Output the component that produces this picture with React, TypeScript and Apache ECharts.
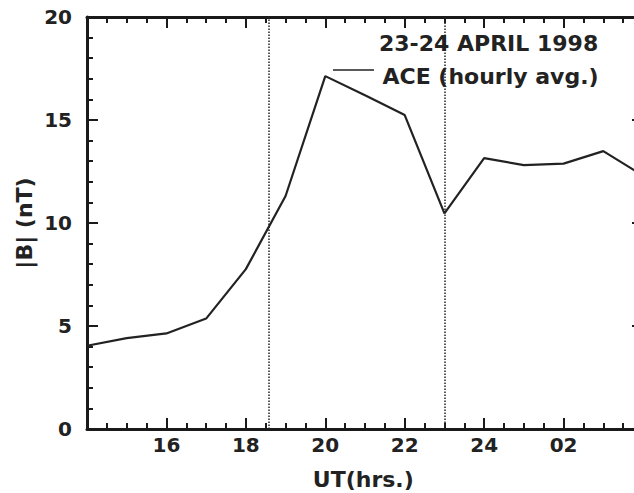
import React, { useEffect, useRef } from "react";
import * as echarts from "echarts";

const hours = [14, 15, 16, 17, 18, 19, 20, 21, 22, 23, 24, 25, 26, 27, 28];
const bValues = [4.04, 4.41, 4.64, 5.36, 7.76, 11.31, 17.13, 16.2, 15.24, 10.47, 13.15, 12.81, 12.88, 13.49, 12.3];
const markerHours = [18.57, 23.0];
const xTickLabels: Record<number, string> = { 16: "16", 18: "18", 20: "20", 22: "22", 24: "24", 26: "02" };
const titleText = "23-24 APRIL 1998";
const seriesName = "ACE (hourly avg.)";
const xName = "UT(hrs.)";
const yName = "|B| (nT)";

const FONT = "'DejaVu Sans', sans-serif";
const INK = "#222";
const AXIS = "#1a1a1a";

function axisLine() {
  return { show: true, onZero: false, lineStyle: { color: AXIS, width: 3 } };
}
function tick() {
  return { show: true, inside: true, length: 11, lineStyle: { color: AXIS, width: 2 } };
}
function minor(n: number) {
  return { show: true, splitNumber: n, length: 6, lineStyle: { color: AXIS, width: 2 } };
}

export default function App() {
  const ref = useRef<HTMLDivElement>(null);
  useEffect(() => {
    if (!ref.current) return;
    const chart = echarts.init(ref.current, null, { renderer: "svg" });
    chart.setOption({
      animation: false,
      backgroundColor: "#fff",
      grid: { left: 87, right: 17, top: 17, bottom: 64 },
      xAxis: [
        {
          type: "value",
          min: 14,
          max: 28,
          interval: 2,
          axisLine: axisLine(),
          axisTick: tick(),
          minorTick: minor(4),
          splitLine: { show: false },
          axisLabel: {
            margin: 6,
            fontFamily: FONT,
            fontWeight: "bold",
            fontSize: 20,
            color: INK,
            formatter: (v: number) => xTickLabels[v] ?? "",
          },
        },
        {
          type: "value",
          position: "top",
          min: 14,
          max: 28,
          interval: 2,
          axisLine: axisLine(),
          axisTick: tick(),
          minorTick: minor(4),
          splitLine: { show: false },
          axisLabel: { show: false },
        },
      ],
      yAxis: [
        {
          type: "value",
          min: 0,
          max: 20,
          interval: 5,
          axisLine: axisLine(),
          axisTick: tick(),
          minorTick: minor(5),
          splitLine: { show: false },
          axisLabel: {
            margin: 15,
            fontFamily: FONT,
            fontWeight: "bold",
            fontSize: 20,
            color: INK,
          },
        },
        {
          type: "value",
          position: "right",
          min: 0,
          max: 20,
          interval: 5,
          axisLine: axisLine(),
          axisTick: tick(),
          minorTick: minor(5),
          splitLine: { show: false },
          axisLabel: { show: false },
        },
      ],
      series: [
        {
          name: seriesName,
          type: "line",
          xAxisIndex: 0,
          yAxisIndex: 0,
          data: hours.map((h, i) => [h, bValues[i]]),
          symbol: "none",
          lineStyle: { color: INK, width: 2.2 },
          markLine: {
            silent: true,
            symbol: "none",
            label: { show: false },
            lineStyle: { color: INK, width: 1.5, type: [1.5, 1.5] },
            data: markerHours.map((x) => ({ xAxis: x })),
          },
        },
      ],
      graphic: [
        {
          type: "text",
          left: 379,
          top: 43.3 - 11,
          style: { text: titleText, font: `bold 22px ${FONT}`, fill: INK },
        },
        {
          type: "line",
          shape: { x1: 333, y1: 70, x2: 374, y2: 70 },
          style: { stroke: INK, lineWidth: 1.5 },
        },
        {
          type: "text",
          left: 382.5,
          top: 76.3 - 11,
          style: { text: seriesName, font: `bold 22px ${FONT}`, fill: INK },
        },
        {
          type: "text",
          x: 363.3,
          y: 479.7,
          style: { text: xName, font: `bold 22px ${FONT}`, fill: INK, align: "center", verticalAlign: "middle" },
        },
        {
          type: "text",
          x: 24.5,
          y: 223,
          rotation: Math.PI / 2,
          style: { text: yName, font: `bold 22px ${FONT}`, fill: INK, align: "center", verticalAlign: "middle" },
        },
      ],
    });
    return () => chart.dispose();
  }, []);
  return <div ref={ref} style={{ position: "fixed", left: 0, top: 0, width: 660, height: 493 }} />;
}
